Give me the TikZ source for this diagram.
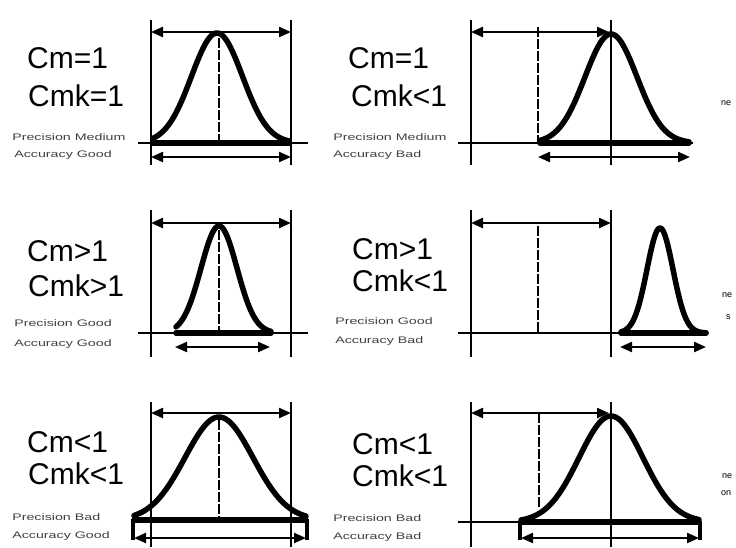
\documentclass[tikz,border=0pt]{standalone}
\usepackage{fontspec}
\setmainfont{Liberation Sans}
\usetikzlibrary{arrows.meta}
\begin{document}
\begin{tikzpicture}[x=1pt,y=-1pt,
 big/.style={font=\fontsize{30}{30}\selectfont, anchor=west, inner sep=0},
 small/.style={font=\fontsize{9.5}{9.5}\selectfont, anchor=west, inner sep=0, xscale=1.5, text=black!75},
 frag/.style={font=\fontsize{9}{9}\selectfont, anchor=west, inner sep=0},
 vline/.style={line width=1.9pt},
 thinv/.style={line width=1.3pt},
 base/.style={line width=1.6pt},
 dim/.style={line width=2.2pt, {Triangle[length=12pt,width=10pt]}-{Triangle[length=12pt,width=10pt]}},
 curve/.style={line width=5.5pt, line join=round, line cap=round},
 axis/.style={line width=1.6pt, dash pattern=on 10pt off 2pt},
 endbar/.style={line width=3.5pt},
]
\useasboundingbox (0,0) rectangle (736,547);

% ---------- Panel 1 ----------
\node[big] (t1a) at (27,58) {Cm=1};
\node[big] (t1b) at (28,96) {Cmk=1};
\node[small] (s1a) at (12,137) {Precision Medium};
\node[small] (s1b) at (14,155) {Accuracy Good};
\draw[vline] (151,20) -- (151,165);
\draw[vline] (291,20) -- (291,165);
\draw[base] (138,143) -- (308,143);
\draw[dim] (151,32) -- (291,32);
\draw[dim] (151,157) -- (291,157);
\draw[axis] (219,38) -- (219,143);
\draw[curve] (153,143) -- (289,143);
\draw[curve] plot[domain=153:289,samples=80,smooth] (\x,{143-110*exp(-((\x-217)*(\x-217))/(2*25.5*25.5))});

% ---------- Panel 2 ----------
\node[big] (t2a) at (348,58) {Cm=1};
\node[big] (t2b) at (351,96) {Cmk<1};
\node[small] (s2a) at (333,137) {Precision Medium};
\node[small] (s2b) at (333,155) {Accuracy Bad};
\draw[vline] (471,20) -- (471,165);
\draw[thinv] (611,20) -- (611,165);
\draw[base] (458,143) -- (693,143);
\draw[dim] (471,32) -- (609,32);
\draw[axis] (538,27) -- (538,143);
\draw[curve] (540,143) -- (689,143);
\draw[curve] plot[domain=540:689,samples=80,smooth] (\x,{143-109*exp(-((\x-611)*(\x-611))/(2*26*26))});
\draw[dim] (538,157) -- (690,157);
\node[frag] (f1) at (721,103) {ne};

% ---------- Panel 3 ----------
\node[big] (t3a) at (27,251) {Cm>1};
\node[big] (t3b) at (28,286) {Cmk>1};
\node[small] (s3a) at (14,323) {Precision Good};
\node[small] (s3b) at (14,344) {Accuracy Good};
\draw[vline] (151,210) -- (151,357);
\draw[vline] (291,210) -- (291,357);
\draw[base] (138,333) -- (308,333);
\draw[dim] (151,223) -- (291,223);
\draw[axis] (219,230) -- (219,333);
\draw[curve] (176,333) -- (271,333);
\draw[curve] plot[domain=176:271,samples=80,smooth] (\x,{333-107*exp(-((\x-219)*(\x-219))/(2*18*18))});
\draw[dim] (175,347) -- (270,347);

% ---------- Panel 4 ----------
\node[big] (t4a) at (352,249) {Cm>1};
\node[big] (t4b) at (352,281) {Cmk<1};
\node[small] (s4a) at (335,321) {Precision Good};
\node[small] (s4b) at (335,341) {Accuracy Bad};
\draw[vline] (471,210) -- (471,357);
\draw[vline] (611,210) -- (611,357);
\draw[base] (458,333) -- (708,333);
\draw[dim] (471,223) -- (611,223);
\draw[axis] (538,226) -- (538,333);
\draw[curve] (621,333) -- (706,333);
\draw[curve] plot[domain=621:706,samples=80,smooth] (\x,{333-105*exp(-((\x-660)*(\x-660))/(2*13*13))});
\draw[dim] (620,347) -- (706,347);
\node[frag] (f2) at (722,295) {ne};
\node[frag] (f3) at (726,317) {s};

% ---------- Panel 5 ----------
\node[big] (t5a) at (27,442) {Cm<1};
\node[big] (t5b) at (28,474) {Cmk<1};
\node[small] (s5a) at (12,517) {Precision Bad};
\node[small] (s5b) at (12,536) {Accuracy Good};
\draw[vline] (151,402) -- (151,547);
\draw[vline] (291,402) -- (291,547);
\draw[dim] (151,413) -- (291,413);
\draw[axis] (219,420) -- (219,520);
\draw[curve] (134,520) -- (306,520);
\draw[endbar] (133,519) -- (133,540);
\draw[endbar] (307,519) -- (307,540);
\draw[curve] plot[domain=134:306,samples=80,smooth] (\x,{520-103*exp(-((\x-219)*(\x-219))/(2*34*34))});
\draw[dim] (134,538) -- (306,538);

% ---------- Panel 6 ----------
\node[big] (t6a) at (352,444) {Cm<1};
\node[big] (t6b) at (352,476) {Cmk<1};
\node[small] (s6a) at (333,518) {Precision Bad};
\node[small] (s6b) at (333,537) {Accuracy Bad};
\draw[vline] (471,402) -- (471,547);
\draw[thinv] (611,402) -- (611,547);
\draw[base] (458,522) -- (700,522);
\draw[dim] (471,413) -- (609,413);
\draw[axis] (539,413) -- (539,507);
\draw[curve] (521,522) -- (699,522);
\draw[endbar] (520,521) -- (520,540);
\draw[endbar] (700,521) -- (700,540);
\draw[curve] plot[domain=521:699,samples=80,smooth] (\x,{522-106*exp(-((\x-611)*(\x-611))/(2*32*32))});
\draw[dim] (521,538) -- (699,538);
\node[frag] (f4) at (722,476) {ne};
\node[frag] (f5) at (721,493) {on};
\end{tikzpicture}
\end{document}
